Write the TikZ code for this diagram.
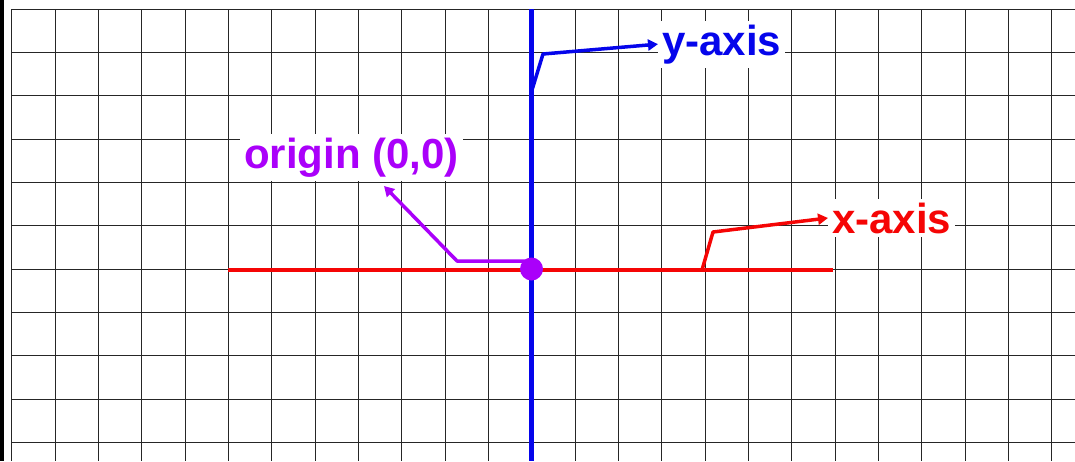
\documentclass[tikz,border=0pt]{standalone}
\usepackage{fontspec}
\setmainfont{Liberation Sans}
\usetikzlibrary{arrows.meta}
\definecolor{axred}{RGB}{245,5,5}
\definecolor{axblue}{RGB}{5,5,235}
\definecolor{orgpurple}{RGB}{170,0,250}
\begin{document}
\begin{tikzpicture}[x=1pt,y=-1pt,
  gridline/.style={draw=black!85,line width=0.95pt},
  lbl/.style={fill=white,inner xsep=4pt,inner ysep=4pt,anchor=base west,font=\fontsize{42}{48}\selectfont\bfseries},
  axisline/.style={line width=4.6pt},
  pointer/.style={line width=3.5pt,line join=round,-{Triangle[length=10pt,width=11pt]}}]
\useasboundingbox (0,0) rectangle (1075,461);
\fill[black] (0,0) rectangle (4,461);
\foreach \k in {0,...,24} \draw[gridline] ({11.7+43.33*\k},9.3) -- ({11.7+43.33*\k},461);
\foreach \k in {0,...,10} \draw[gridline] (11.7,{9.3+43.33*\k}) -- (1075,{9.3+43.33*\k});
% labels
\node[lbl,text=orgpurple] (olab) at (240,168) {origin (0,0)\hspace{10pt}};
\node[lbl,text=axblue] (ylab) at (658,55) {y-axis\hspace{11pt}};
\node[lbl,text=axred] (xlab) at (828,233) {x-axis\hspace{12pt}};
% axes
\coordinate (xl) at (228,270);
\coordinate (xr) at (833,270);
\coordinate (yt) at (531.5,9.3);
\coordinate (yb) at (531.5,461);
\draw[axisline,axred] (xl) -- (xr);
\draw[axisline,axblue] (yt) -- (yb);
\node[circle,fill=orgpurple,minimum size=23pt,inner sep=0pt] (O) at (531.5,269) {};
% pointers
\coordinate (ybase) at (531.7,91);
\coordinate (ybend) at (543,54);
\draw[pointer,axblue] (ybase) -- (ybend) -- (ylab.west);
\coordinate (xbase) at (702,270);
\coordinate (xbend) at (713,232);
\draw[pointer,axred] (xbase) -- (xbend) -- (xlab.west);
\coordinate (ostart) at (531,261);
\coordinate (obend) at (457,261);
\coordinate (otip) at (384,186);
\draw[pointer,orgpurple] (ostart) -- (obend) -- (otip);
\end{tikzpicture}
\end{document}
